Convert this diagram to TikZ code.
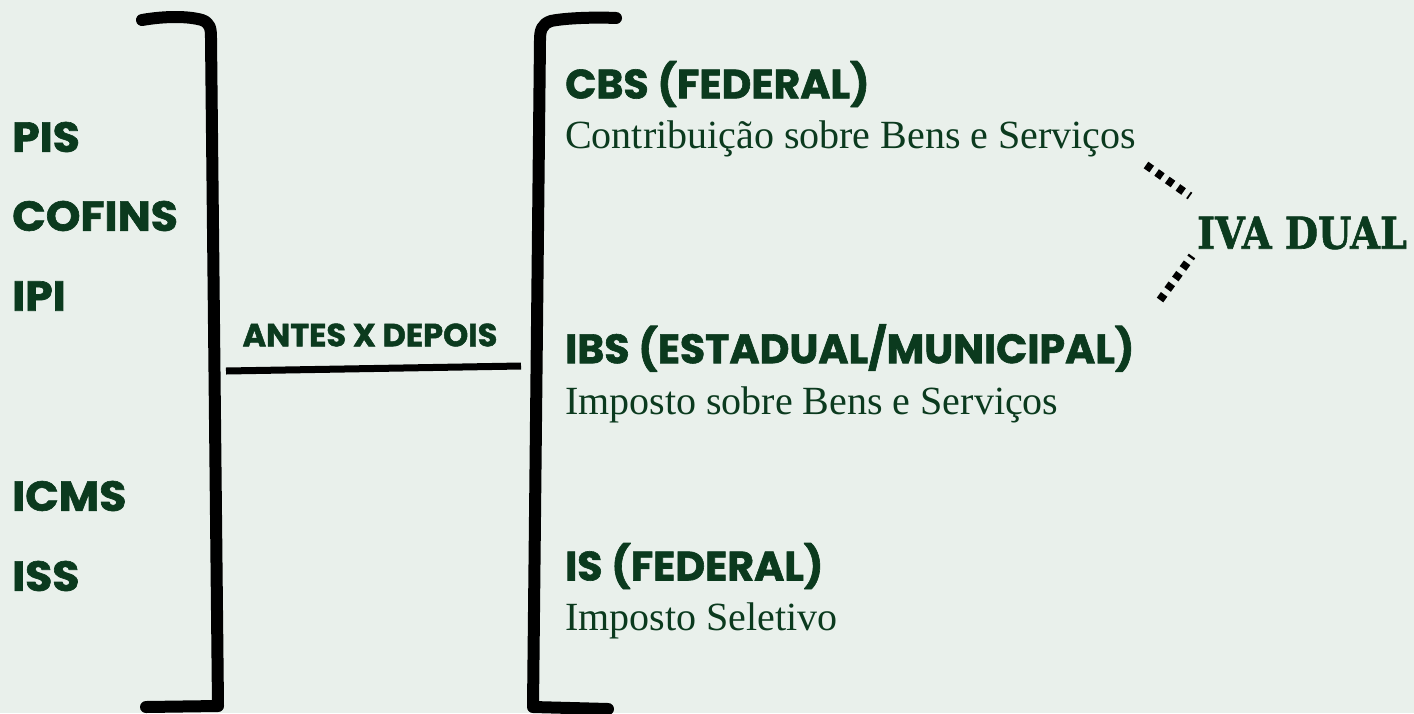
\documentclass[tikz,border=0pt]{standalone}
\usepackage{fontspec}
\setmainfont{Liberation Serif}
\newfontfamily\headfont{Poppins}[BoldFeatures={FakeBold=1.5}]
\newfontfamily\slabfont{DejaVu Serif}[BoldFeatures={FakeBold=1.5}]
\definecolor{bg}{HTML}{E9F0EB}
\definecolor{ink}{HTML}{0B3A1E}
\begin{document}
\begin{tikzpicture}[x=1pt,y=-1pt,
  head/.style={anchor=west,inner sep=0pt,text=ink,font=\headfont\bfseries\fontsize{41}{41}\selectfont},
  lefthead/.style={anchor=west,inner sep=0pt,text=ink,font=\headfont\bfseries\fontsize{42}{42}\selectfont},
  sub/.style={anchor=west,inner sep=0pt,text=ink,font=\fontsize{40}{40}\selectfont},
  bracket/.style={line width=12pt,line cap=round,line join=round,draw=black},
  dots/.style={line width=8pt,dash pattern=on 7pt off 6pt,draw=black}]
\fill[bg] (0,0) rectangle (1414,713);
\useasboundingbox (0,0) rectangle (1414,713);
% brackets
\draw[bracket] (142,20) .. controls (165,16) and (188,16) .. (202,20) .. controls (210,23) and (211,28) .. (211,38) -- (218,706) -- (146,707);
\draw[bracket] (616,18) .. controls (595,17) and (565,18) .. (551,21) .. controls (542,24) and (540,30) .. (540,40) -- (533,707) -- (608,709);
% left items
\node[lefthead] (pis) at (12,137) {\scalebox{1.05}[1]{PIS}};
\node[lefthead] (cofins) at (12,216) {\scalebox{1.05}[1]{COFINS}};
\node[lefthead] (ipi) at (12,296) {\scalebox{1.05}[1]{IPI}};
\node[lefthead] (icms) at (12,496) {\scalebox{1.05}[1]{ICMS}};
\node[lefthead] (iss) at (12,576) {\scalebox{1.05}[1]{ISS}};
% middle
\coordinate (ml) at (226,371);
\coordinate (mr) at (521,366);
\draw[line width=7pt] (ml) -- (mr);
\node[inner sep=0pt,text=ink,font=\headfont\bfseries\fontsize{32}{32}\selectfont] (ad) at (370,335) {ANTES X DEPOIS};
% right items
\node[head] (cbs) at (565,84) {CBS (FEDERAL)};
\node[sub] (cbst) at (565,139) {Contribuição sobre Bens e Serviços};
\node[head] (ibs) at (565,348) {IBS (ESTADUAL/MUNICIPAL)};
\node[sub] (ibst) at (565,405) {Imposto sobre Bens e Serviços};
\node[head] (is) at (565,566) {IS (FEDERAL)};
\node[sub] (ist) at (565,621) {Imposto Seletivo};
% IVA dual
\node[anchor=west,inner sep=0pt,text=ink,font=\slabfont\bfseries\fontsize{44}{44}\selectfont] (iva) at (1197,233) {\scalebox{0.87}[1]{IVA DUAL}};
\coordinate (d1a) at (1146,165);
\coordinate (d1b) at (1190,196);
\coordinate (d2a) at (1160,300);
\coordinate (d2b) at (1192,256);
\draw[dots] (d1a) -- (d1b);
\draw[dots] (d2a) -- (d2b);
\end{tikzpicture}
\end{document}
